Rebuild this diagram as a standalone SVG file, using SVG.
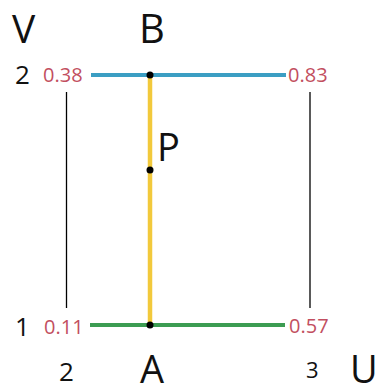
<svg xmlns="http://www.w3.org/2000/svg" width="377" height="388" viewBox="0 0 377 388">
<style>
.big{font-family:"Open Sans","Liberation Sans",sans-serif;fill:#111}
.num{font-family:"Open Sans","Liberation Sans",sans-serif;fill:#c24f60;font-size:20px}
.thin{stroke:#000;stroke-width:1.3}
.dot{fill:#000}
</style>
<rect width="377" height="388" fill="#fff"/>
<g id="connectors">
<line class="thin" x1="66.5" y1="92" x2="66.5" y2="308"/>
<line class="thin" x1="310" y1="92" x2="310" y2="308"/>
<line x1="150" y1="75" x2="150" y2="325" stroke="#f2c93c" stroke-width="4.5"/>
<line x1="91" y1="75" x2="286" y2="75" stroke="#3b9ec3" stroke-width="4"/>
<line x1="90" y1="325" x2="285" y2="325" stroke="#3c9c52" stroke-width="4"/>
</g>
<g id="B"><circle class="dot" cx="150" cy="75" r="3.5"/><text class="big" x="152" y="43" font-size="40" text-anchor="middle">B</text></g>
<g id="P"><circle class="dot" cx="150" cy="170" r="3.5"/><text class="big" x="157" y="161" font-size="38">P</text></g>
<g id="A"><circle class="dot" cx="150" cy="325" r="3.5"/><text class="big" x="152" y="383" font-size="38" text-anchor="middle">A</text></g>
<g id="labels">
<text class="big" x="12" y="43" font-size="39">V</text>
<text class="big" x="350" y="383" font-size="38">U</text>
<text class="big" x="15" y="84" font-size="26">2</text>
<text class="big" x="15" y="336" font-size="26">1</text>
<text class="big" x="59" y="381" font-size="26">2</text>
<text class="big" x="306" y="378" font-size="22">3</text>
<text class="num" x="43" y="82">0.38</text>
<text class="num" x="288" y="82">0.83</text>
<text class="num" x="44" y="334">0.11</text>
<text class="num" x="289" y="333">0.57</text>
</g>
</svg>
